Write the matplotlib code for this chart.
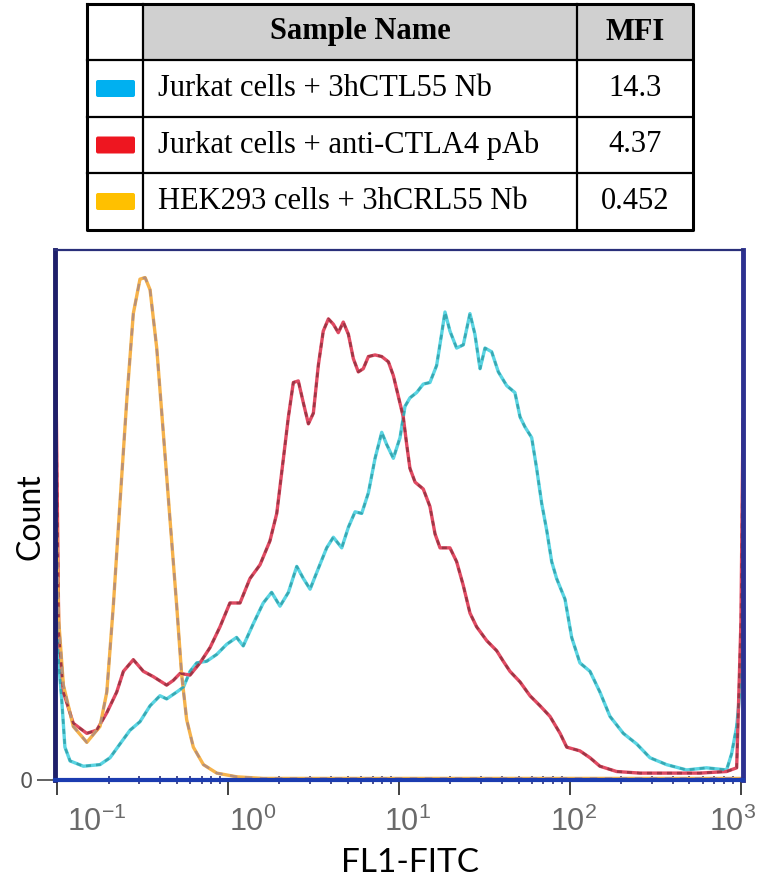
import matplotlib
matplotlib.use("Agg")
import matplotlib.pyplot as plt
import matplotlib.transforms as mtransforms
from matplotlib.patches import FancyBboxPatch
from matplotlib.ticker import FixedLocator, LogLocator, NullFormatter
import numpy as np

# table contents
sample_names = ["Jurkat cells + 3hCTL55 Nb",
                "Jurkat cells + anti-CTLA4 pAb",
                "HEK293 cells + 3hCRL55 Nb"]
mfi_values = ["14.3", "4.37", "0.452"]
swatch_colors = ["#00b0f0", "#ee1620", "#ffc000"]

# histograms: log10(FL1-FITC) and count (0-100 = full height)
cyan_logx = [-1.012, -0.99, -0.973, -0.954, -0.924, -0.846, -0.749, -0.690, -0.632, -0.573,
             -0.515, -0.456, -0.398, -0.359, -0.300, -0.261, -0.222, -0.183, -0.125, -0.066,
             -0.008, 0.050, 0.089, 0.148, 0.206, 0.255, 0.304, 0.353, 0.402, 0.441,
             0.480, 0.528, 0.577, 0.616, 0.665, 0.704, 0.743, 0.782, 0.821, 0.860,
             0.899, 0.928, 0.967, 1.006, 1.035, 1.064, 1.103, 1.142, 1.181, 1.220,
             1.249, 1.269, 1.298, 1.337, 1.376, 1.415, 1.444, 1.474, 1.503, 1.542,
             1.581, 1.630, 1.678, 1.708, 1.737, 1.776, 1.805, 1.834, 1.864, 1.893,
             1.922, 1.971, 2.010, 2.058, 2.117, 2.175, 2.234, 2.312, 2.390, 2.468,
             2.565, 2.682, 2.799, 2.916, 2.945, 2.975, 2.994, 3.012]
cyan_count = [36, 22, 15.3, 6.2, 3.6, 2.6, 2.9, 4.2, 6.8, 9.4,
              11.0, 14.0, 15.9, 15.3, 16.6, 17.5, 20.5, 22.1, 22.4, 23.7,
              25.6, 26.9, 25.3, 29.5, 33.4, 35.4, 32.8, 35.4, 40.3, 38.0,
              36.0, 39.9, 43.8, 45.8, 43.8, 47.7, 50.6, 50.3, 54.2, 60.7,
              65.6, 63.3, 60.7, 64.6, 70.5, 72.1, 73.1, 74.7, 75.0, 78.2,
              84.1, 88.3, 84.7, 81.5, 82.1, 88.0, 84.1, 77.6, 81.5, 80.8,
              77.0, 74.4, 73.1, 68.5, 66.6, 64.6, 58.8, 52.3, 47.1, 41.2,
              38.0, 34.1, 26.9, 22.1, 20.5, 16.6, 12.0, 8.8, 6.8, 4.2,
              2.9, 1.9, 2.3, 1.9, 4.9, 10.1, 16.6, 30]

red_logx = [-1.012, -0.99, -0.963, -0.905, -0.826, -0.768, -0.709, -0.651, -0.612, -0.554,
            -0.495, -0.437, -0.359, -0.320, -0.281, -0.222, -0.164, -0.105, -0.047, 0.011,
            0.070, 0.128, 0.187, 0.245, 0.285, 0.324, 0.353, 0.382, 0.411, 0.441,
            0.470, 0.499, 0.528, 0.557, 0.587, 0.616, 0.645, 0.674, 0.704, 0.733,
            0.762, 0.791, 0.821, 0.860, 0.899, 0.938, 0.967, 0.996, 1.025, 1.045,
            1.064, 1.094, 1.142, 1.181, 1.211, 1.240, 1.298, 1.337, 1.376, 1.415,
            1.454, 1.513, 1.571, 1.610, 1.649, 1.708, 1.766, 1.825, 1.883, 1.942,
            1.981, 2.058, 2.117, 2.175, 2.273, 2.409, 2.565, 2.760, 2.916, 2.975,
            3.0, 3.012]
red_count = [92, 28, 16.6, 10.7, 8.8, 9.4, 12.7, 16.6, 20.5, 22.7,
             20.5, 19.5, 17.9, 18.8, 20.1, 19.8, 22.1, 25.0, 28.9, 33.4,
             33.4, 38.0, 40.6, 45.1, 50.3, 60.7, 68.5, 75.0, 75.3, 71.1,
             67.2, 69.2, 78.2, 84.7, 87.0, 86.0, 84.4, 86.4, 84.1, 79.5,
             77.0, 77.6, 79.9, 80.2, 79.9, 78.9, 76.3, 72.4, 68.5, 63.3,
             58.8, 56.2, 54.9, 51.6, 46.4, 43.8, 43.8, 41.2, 36.7, 31.5,
             28.9, 26.3, 24.4, 22.4, 20.5, 18.5, 15.9, 14.0, 12.0, 8.8,
             6.2, 5.5, 4.2, 2.6, 1.6, 1.3, 1.3, 1.3, 1.6, 2.3,
             30, 68]

orange_logx = [-1.012, -0.99, -0.963, -0.905, -0.826, -0.749, -0.709, -0.671, -0.632, -0.592,
               -0.554, -0.515, -0.485, -0.456, -0.417, -0.378, -0.339, -0.300, -0.271, -0.242,
               -0.203, -0.144, -0.066, 0.051, 0.206, 3.012]
orange_count = [61, 30, 17.9, 10.1, 7.1, 10.1, 16.6, 32.8, 52.3, 71.8,
                88.0, 94.5, 94.8, 92.5, 81.5, 65.3, 49.0, 32.8, 19.8, 11.4,
                6.2, 2.9, 1.3, 0.6, 0.3, 0.3]

decade_ticks = [0.1, 1, 10, 100, 1000]
decade_labels = [r"$\mathregular{10^{-1}}$", r"$\mathregular{10^{0}}$", r"$\mathregular{10^{1}}$",
                 r"$\mathregular{10^{2}}$", r"$\mathregular{10^{3}}$"]

W, H = 766, 882
fig = plt.figure(figsize=(W / 100, H / 100), dpi=100)

# ---- table on top, drawn in pixel units
tab = fig.add_axes([0, 0, 1, 1])
tab.set_xlim(0, W)
tab.set_ylim(H, 0)
tab.axis("off")
x_left, x_c1, x_c2, x_right = 87, 143, 577, 693
row_edges = [4, 60, 117, 173, 230]
tab.fill_between([x_c1, x_right], row_edges[0], row_edges[1], color="#d0d0d0", lw=0)
for y in row_edges[1:-1]:
    tab.plot([x_left, x_right], [y, y], color="black", lw=1.6)
for x in [x_c1, x_c2]:
    tab.plot([x, x], [row_edges[0], row_edges[-1]], color="black", lw=1.6)
tab.plot([x_left, x_right, x_right, x_left, x_left],
         [row_edges[0], row_edges[0], row_edges[-1], row_edges[-1], row_edges[0]],
         color="black", lw=2.2)
serif = "Liberation Serif"
hy = (row_edges[0] + row_edges[1]) / 2
tab.text((x_c1 + x_c2) / 2, hy, "Sample Name", family=serif, weight="bold",
         fontsize=22, ha="center", va="center")
tab.text((x_c2 + x_right) / 2, hy, "MFI", family=serif, weight="bold",
         fontsize=22, ha="center", va="center")
for i, (name, mfi, col) in enumerate(zip(sample_names, mfi_values, swatch_colors)):
    cy = (row_edges[i + 1] + row_edges[i + 2]) / 2
    tab.add_patch(FancyBboxPatch((98, cy - 6.5), 35, 13, boxstyle="round,pad=2",
                                 fc=col, ec="none"))
    tab.text(158, cy, name, family=serif, fontsize=22, ha="left", va="center")
    tab.text((x_c2 + x_right) / 2, cy, mfi, family=serif, fontsize=22,
             ha="center", va="center")

# ---- histogram
ax = fig.add_axes([55 / W, 1 - 780 / H, 688 / W, 530 / H])
ax.set_xscale("log")

def draw(logx, count, base, over, dash):
    x = 10 ** np.array(logx)
    ax.plot(x, count, color=base, lw=2.4, zorder=3, solid_joinstyle="round")
    ax.plot(x, count, color=over, lw=1.8, zorder=3.1, dashes=dash)

draw(cyan_logx, cyan_count, "#5ad4e2", "#38a8b2", (2, 2))
draw(red_logx, red_count, "#e04a62", "#9e3646", (2, 2))
draw(orange_logx, orange_count, "#f6b24a", "#b89078", (3, 3))

ax.set_xlim(10 ** -1.012, 10 ** 3.012)
ax.set_ylim(0, 100)

ax.spines["left"].set_color("#1e1f6a")
ax.spines["left"].set_linewidth(3.5)
ax.spines["right"].set_color("#2d3190")
ax.spines["right"].set_linewidth(3.5)
ax.spines["bottom"].set_color("#1b3cb0")
ax.spines["bottom"].set_linewidth(3)
ax.spines["top"].set_color("#2a2f7a")
ax.spines["top"].set_linewidth(1.6)
ax.spines["top"].set_linestyle((0, (2, 1)))
for s in ax.spines.values():
    s.set_zorder(4)

ax.xaxis.set_major_locator(FixedLocator(decade_ticks))
ax.set_xticklabels(decade_labels)
ax.xaxis.set_minor_locator(LogLocator(base=10, subs=np.arange(2, 10), numticks=20))
ax.xaxis.set_minor_formatter(NullFormatter())
ax.tick_params(axis="x", which="major", direction="out", length=11, width=1.3,
               color="#333333", labelsize=22, labelcolor="#6a6a6a", pad=8)
ax.tick_params(axis="x", which="minor", direction="inout", length=6, width=1.2,
               color="#2a2f7a")
for lab, dx in zip(ax.get_xticklabels(), [40, 25, 9, 4, -8]):
    lab.set_transform(lab.get_transform() + mtransforms.ScaledTranslation(dx / 100, 0, fig.dpi_scale_trans))
for lab in ax.get_xticklabels():
    lab.set_family("Liberation Sans")

ax.set_yticks([0])
ax.set_yticklabels(["0"])
ax.tick_params(axis="y", direction="out", length=13, width=1.3, color="#555555",
               labelsize=15, labelcolor="#555555", pad=3)

ax.set_ylabel("Count", family="Lato", fontsize=23)
ax.yaxis.set_label_coords(-0.014, 0.496)
ax.set_xlabel("FL1-FITC", family="Lato", fontsize=24)
ax.xaxis.set_label_coords(0.516, -0.128)

fig.savefig("out.png", dpi=100)
